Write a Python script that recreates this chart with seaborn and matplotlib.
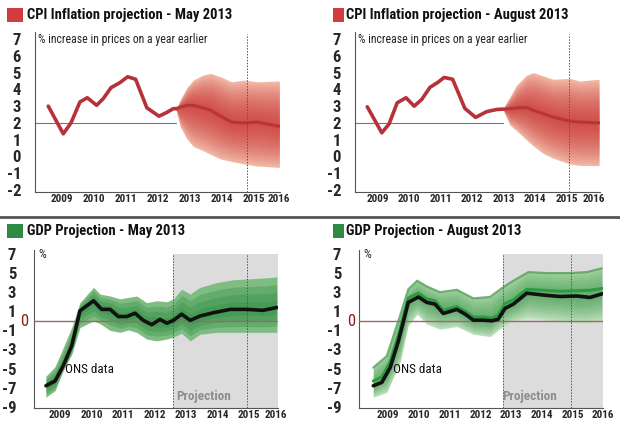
import numpy as np
import pandas as pd
import seaborn as sns
import matplotlib.pyplot as plt
from matplotlib.patches import Rectangle

# ---- CPI inflation, May 2013 ----
cpi_may_hist_x = [2009.07, 2009.54, 2009.78, 2010.06, 2010.29, 2010.58, 2010.79, 2011.03, 2011.31,
                  2011.55, 2011.80, 2012.15, 2012.53, 2012.75, 2012.98, 2013.10]
cpi_may_hist_y = [3.0, 1.35, 2.0, 3.25, 3.5, 3.05, 3.45, 4.1, 4.4, 4.75, 4.6, 2.9, 2.4, 2.6, 2.85, 2.85]
cpi_may_fan_x = [2013.06, 2013.2, 2013.4, 2013.6, 2013.9, 2014.15, 2014.45, 2014.8, 2015.2, 2015.6, 2016.29]
cpi_may_fan_hi = [2.8, 3.4, 4.1, 4.55, 4.85, 4.95, 4.75, 4.45, 4.55, 4.45, 4.5]
cpi_may_fan_mid = [2.85, 2.95, 3.05, 3.05, 2.9, 2.75, 2.4, 2.05, 2.0, 2.05, 1.8]
cpi_may_fan_lo = [2.8, 1.75, 1.05, 0.6, 0.35, 0.12, -0.15, -0.3, -0.45, -0.57, -0.65]

# ---- CPI inflation, August 2013 ----
cpi_aug_hist_x = [2009.17, 2009.63, 2009.86, 2010.12, 2010.40, 2010.66, 2010.90, 2011.16, 2011.40,
                  2011.61, 2011.88, 2012.27, 2012.61, 2012.96, 2013.28, 2013.47]
cpi_aug_hist_y = [2.96, 1.41, 1.93, 3.2, 3.5, 3.0, 3.4, 4.12, 4.4, 4.71, 4.6, 2.86, 2.33, 2.67, 2.8, 2.82]
cpi_aug_fan_x = [2013.47, 2013.7, 2013.91, 2014.23, 2014.44, 2014.76, 2015.07, 2015.6, 2015.92, 2016.53]
cpi_aug_fan_hi = [2.82, 3.55, 4.25, 4.85, 5.0, 4.8, 4.6, 4.65, 4.5, 4.6]
cpi_aug_fan_mid = [2.82, 2.85, 2.9, 2.92, 2.75, 2.55, 2.35, 2.1, 2.05, 2.0]
cpi_aug_fan_lo = [2.82, 1.87, 1.54, 0.98, 0.63, 0.18, -0.1, -0.45, -0.53, -0.55]

# ---- GDP, May 2013 ----
gdp_may_x = [2009.05, 2009.34, 2009.6, 2009.87, 2010.13, 2010.56, 2010.82, 2011.09, 2011.35, 2011.62,
             2011.88, 2012.14, 2012.41, 2012.67, 2012.89, 2013.1, 2013.36, 2013.63, 2013.94, 2014.37,
             2014.9, 2015.43, 2015.95, 2016.38]
gdp_may_y = [-6.8, -6.3, -4.7, -2.6, 1.05, 2.1, 1.2, 1.2, 0.45, 0.45, 0.8, 0.05, -0.4, 0.15, -0.25,
             0.05, 0.7, 0.05, 0.5, 0.85, 1.2, 1.2, 1.1, 1.4]
gdp_may_fan_x = [2009.05, 2009.34, 2009.6, 2009.87, 2010.13, 2010.56, 2010.77, 2011.09, 2011.4, 2011.67,
                 2011.93, 2012.25, 2012.57, 2012.89, 2013.1, 2013.36, 2013.63, 2013.94, 2014.47, 2015.0,
                 2015.53, 2016.06, 2016.38]
gdp_may_fan_hi = [-5.8, -4.8, -2.8, -0.7, 1.9, 3.5, 2.8, 2.6, 2.3, 2.45, 2.6, 1.9, 2.1, 2.0, 2.3, 3.3,
                  2.8, 3.5, 4.0, 4.3, 4.4, 4.5, 4.6]
gdp_may_fan_mid = [-6.8, -6.3, -4.7, -2.6, 1.05, 2.1, 1.3, 1.2, 0.45, 0.5, 0.75, -0.1, -0.1, -0.25, 0.05,
                   0.7, 0.05, 0.5, 0.9, 1.2, 1.2, 1.15, 1.4]
gdp_may_fan_lo = [-8.0, -7.3, -5.2, -3.5, -0.7, 0.0, -0.3, -1.0, -1.2, -0.95, -1.2, -1.9, -2.1, -1.9,
                  -1.7, -1.3, -2.1, -1.4, -1.2, -1.2, -1.2, -1.2, -1.2]

# ---- GDP, August 2013 ----
gdp_aug_x = [2009.01, 2009.29, 2009.56, 2009.83, 2010.15, 2010.48, 2010.75, 2011.02, 2011.29, 2011.51,
             2011.73, 2012.0, 2012.27, 2012.59, 2012.87, 2013.08, 2013.3, 2013.57, 2014.01, 2014.55,
             2015.09, 2015.64, 2016.07, 2016.48]
gdp_aug_y = [-6.8, -6.45, -4.9, -2.1, 1.93, 2.5, 1.93, 1.75, 0.77, 0.98, 1.2, 0.7, 0.07, 0.07, 0.0,
             0.17, 1.3, 1.75, 2.9, 2.7, 2.55, 2.6, 2.45, 2.85]
gdp_aug_green = [-6.3, -5.9, -4.3, -1.5, 2.4, 2.9, 2.3, 2.1, 1.1, 1.3, 1.5, 1.0, 0.4, 0.4, 0.3,
                 0.6, 1.8, 2.2, 3.3, 3.2, 3.1, 3.15, 3.2, 3.4]
gdp_aug_fan_x = [2009.01, 2009.45, 2009.88, 2010.15, 2010.44, 2010.75, 2011.18, 2011.73, 2012.27, 2012.81,
                 2013.19, 2013.57, 2014.06, 2014.66, 2015.42, 2015.96, 2016.45]
gdp_aug_fan_hi = [-4.9, -3.7, 0.5, 3.3, 4.2, 3.6, 3.0, 3.25, 2.35, 2.5, 3.4, 4.2, 5.1, 5.0, 5.0, 5.1, 5.5]
gdp_aug_fan_mid = [-6.8, -5.6, -2.0, 1.93, 2.45, 1.93, 1.3, 1.2, 0.07, 0.0, 1.2, 1.75, 2.9, 2.7, 2.55, 2.5, 2.85]
gdp_aug_fan_lo = [-8.0, -7.5, -4.4, -0.5, 0.7, -0.35, -0.87, -0.6, -1.4, -1.65, -0.7, 0.0, 0.35, 0.1,
                  -0.17, -0.2, 0.0]

years = list(range(2009, 2017))

sns.set_style("white")
plt.rcParams['font.family'] = ['Roboto Condensed', 'Liberation Sans Narrow', 'Roboto', 'DejaVu Sans']

W, H = 620, 436
fig = plt.figure(figsize=(6.2, 4.36), dpi=100)


def px_axes(x0, x1, y0, y1):
    return fig.add_axes([x0 / W, 1 - y1 / H, (x1 - x0) / W, (y1 - y0) / H])


def draw_fan(ax, x, lo, mid, hi, base, dark, n=8, a=0.13):
    x, lo, mid, hi = map(np.asarray, (x, lo, mid, hi))
    ax.fill_between(x, lo, hi, color=base, lw=0, zorder=2)
    for f in np.linspace(1, 1 / n, n):
        ax.fill_between(x, mid + f * (lo - mid), mid + f * (hi - mid), color=dark, alpha=a, lw=0, zorder=2)


def style_axes(ax, xlim, ylim, yticks, ylabels, xt, ypad):
    ax.set_xlim(xlim)
    ax.set_ylim(ylim)
    for s in ["top", "right"]:
        ax.spines[s].set_visible(False)
    for s in ["left", "bottom"]:
        ax.spines[s].set_color("#555555")
        ax.spines[s].set_linewidth(0.8)
    ax.set_yticks(yticks)
    ax.set_yticklabels(ylabels, fontsize=12, fontweight="bold")
    ax.set_xticks(xt)
    ax.set_xticklabels([str(y) for y in years], fontsize=8, fontweight="bold")
    ax.tick_params(axis="y", length=3, width=0.6, color="#555555", pad=ypad)
    ax.tick_params(axis="x", length=3, width=0.6, color="#555555", pad=2, direction="in")
    ax.set_xlabel("")
    ax.set_ylabel("")
    ax.set_facecolor("none")


def title(xsq, wsq, xt, y, text, color):
    fig.patches.append(Rectangle((xsq / W, 1 - (y + 7) / H), wsq / W, 14 / H, transform=fig.transFigure,
                                 color=color, lw=0))
    fig.text(xt / W, 1 - y / H, text, fontsize=10.5, fontweight="heavy", va="center", ha="left", color="#111111")


red_line = "#b7313a"

# ---------- top panels: CPI ----------
panels_cpi = [
    (35, 280, (2008.656, 2016.31), [y + 0.5 for y in years[:-1]] + [2016.28], 2015.28,
     cpi_may_hist_x, cpi_may_hist_y, cpi_may_fan_x, cpi_may_fan_lo, cpi_may_fan_mid, cpi_may_fan_hi, 2013.06),
    (355, 600, (2008.78, 2016.56), [y + 0.5 for y in years[:-1]] + [2016.37], 2015.58,
     cpi_aug_hist_x, cpi_aug_hist_y, cpi_aug_fan_x, cpi_aug_fan_lo, cpi_aug_fan_mid, cpi_aug_fan_hi, 2013.47),
]
for x0, x1, xl, xt, dash, hx, hy, fx, flo, fmid, fhi, fstart in panels_cpi:
    ax = px_axes(x0, x1, 32.3, 191.7)
    ax.plot([xl[0], fstart], [2, 2], color="#777777", lw=0.8, zorder=1)
    draw_fan(ax, fx, flo, fmid, fhi, "#f4bfab", "#c92a2c", n=22, a=0.055)
    ax.plot([dash, dash], [-2.1, 7.3], color="#555555", lw=0.7, ls=(0, (1.5, 1.5)), zorder=3)
    sns.lineplot(x=hx, y=hy, ax=ax, color=red_line, lw=2.6, sort=False, estimator=None, zorder=4)
    sns.lineplot(x=fx, y=fmid, ax=ax, color="#b9343a", lw=2.2, sort=False, estimator=None, zorder=4)
    style_axes(ax, xl, (-2.1, 7.4), list(range(-2, 8)), [str(v) for v in range(-2, 8)], xt, 7)
    ax.text(xl[0] + 0.1, 7.0, "% increase in prices on a year earlier", fontsize=8.5, va="center",
            ha="left", color="#222222")

title(7, 16, 27, 15, "CPI Inflation projection - May 2013", "#d13c3f")
title(333, 11, 346, 15, "CPI Inflation projection - August 2013", "#d13c3f")

# divider between rows
fig.add_artist(plt.Line2D([0, 1], [1 - 217 / H, 1 - 217 / H], transform=fig.transFigure,
                          color="#555555", lw=2))

# ---------- bottom panels: GDP ----------
gdp_ticks = list(range(-9, 8))
gdp_labels = [str(v) if v % 2 != 0 else "" for v in gdp_ticks]
panels_gdp = [
    (34.3, 278, (2008.68, 2016.42), [y + 0.5 for y in years[:-1]] + [2016.36], (2013.1, 2015.42), 2014.05,
     gdp_may_x, gdp_may_y, None, gdp_may_fan_x, gdp_may_fan_lo, gdp_may_fan_mid, gdp_may_fan_hi, 28),
    (359.3, 603.3, (2008.555, 2016.5), [y + 0.5 for y in years[:-1]] + [2016.48], (2013.23, 2015.44), 2014.1,
     gdp_aug_x, gdp_aug_y, gdp_aug_green, gdp_aug_fan_x, gdp_aug_fan_lo, gdp_aug_fan_mid, gdp_aug_fan_hi, 355),
]
for x0, x1, xl, xt, (p0, d2), ptx, lx, ly, lg, fx, flo, fmid, fhi, zero_x in panels_gdp:
    ax = px_axes(x0, x1, 250.2, 407.7)
    ax.fill_between([p0, xl[1]], -9.1, 7, color="#dcdcdc", lw=0, zorder=0)
    if lg is None:
        draw_fan(ax, fx, flo, fmid, fhi, "#a3d29e", "#2a8a3e", n=4, a=0.3)
    else:
        draw_fan(ax, fx, flo, fmid, fhi, "#c9e6c4", "#2f9040", n=10, a=0.09)
        ax.fill_between(fx, fmid, fhi, color="#5fae62", alpha=0.35, lw=0, zorder=2)
        ax.plot(fx, fhi, color="#4f9f58", lw=1.6, alpha=0.8, zorder=2)
    ax.axhline(0, color="#9a6a6a", lw=1, zorder=3)
    for d in (p0, d2):
        ax.plot([d, d], [-9.1, 7], color="#555555", lw=0.7, ls=(0, (1.5, 1.5)), zorder=3)
    if lg is not None:
        sns.lineplot(x=lx, y=lg, ax=ax, color="#2d9a45", lw=2.2, sort=False, estimator=None, zorder=4)
    sns.lineplot(x=lx, y=ly, ax=ax, color="#111111", lw=2.6, sort=False, estimator=None, zorder=5)
    style_axes(ax, xl, (-9.1, 7.4), gdp_ticks, gdp_labels, xt, 10)
    ax.text(xl[0] + 0.12, 7.0, "%", fontsize=9, va="center", ha="left", color="#222222")
    ax.text(2009.66, -5.1, "ONS data", fontsize=9.5, va="center", ha="left", color="#111111")
    ax.text(ptx, -7.9, "Projection", fontsize=9.5, fontweight="bold", va="center",
            ha="center", color="#8e8e8e")
    fig.text(zero_x / W, 1 - 321.7 / H, "0", fontsize=12, color="#8b1c1c", ha="right", va="center")

title(7, 16, 27, 231, "GDP Projection - May 2013", "#2e8b45")
title(333, 11, 346, 231, "GDP Projection - August 2013", "#2e8b45")

fig.savefig("out.png", dpi=100)
